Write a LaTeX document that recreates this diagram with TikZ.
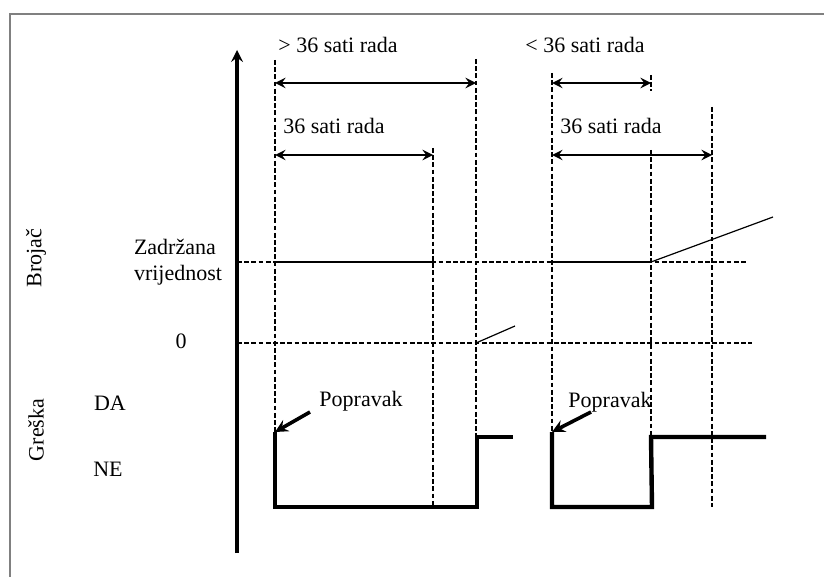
\documentclass[tikz,border=0pt]{standalone}
\usepackage{fontspec}
\setmainfont{Liberation Serif}
\usetikzlibrary{arrows,calc}

\begin{document}
\begin{tikzpicture}[x=0.5pt,y=-0.5pt,
    grid/.style={dash pattern=on 2.4pt off 1.2pt,line width=1.25pt},
    signal/.style={line width=2.2pt},
    span/.style={stealth-stealth,line width=1.3pt},
    lbl/.style={font=\fontsize{11}{13}\selectfont,inner sep=0pt}]

    \useasboundingbox (0,0) rectangle (824,577);
    \draw[gray,line width=1pt] (10,577) -- (10,14) -- (824,14);

    % time axis
    \coordinate (ax0) at (237,553);
    \coordinate (ax1) at (237,50);
    \draw[line width=1.6pt,-stealth] (ax0) to (ax1);

    % events: t1 reset, t2 after 36 h, t3 fault again, t4 reset, t5 fault, t6 after 36 h
    \coordinate (t1) at (275,432);
    \coordinate (t2) at (433,507);
    \coordinate (t3) at (476,437);
    \coordinate (t4) at (552,432);
    \coordinate (t5) at (651,437);
    \coordinate (t6) at (712,507);

    \draw[grid] (275,60) to (t1);
    \draw[grid] (433,148) to (t2);
    \draw[grid] (476,59) to (t3);
    \draw[grid] (552,73) to (t4);
    \draw[grid] (651,75) to (651,91);
    \draw[grid] (651,150) to (t5);
    \draw[grid] (712,107) to (t6);

    % counter levels
    \draw[grid] (237,262) to (748,262);
    \draw[grid] (237,343) to (752,343);
    \draw[line width=1pt] (275,262) to (433,262);
    \draw[line width=1pt] (552,262) to (651,262);
    \draw[line width=0.6pt] (476,343) to (515,326);
    \draw[line width=0.6pt] (651,262) to (773,217);

    % running hours
    \draw[span] (275,83) to (476,83);
    \draw[span] (275,155) to (433,155);
    \draw[span] (552,83) to (651,83);
    \draw[span] (552,155) to (712,155);

    \node[lbl] (h1) at (338,45) {> 36 sati rada};
    \node[lbl] (h2) at (334,126) {36 sati rada};
    \node[lbl] (h3) at (585,45) {< 36 sati rada};
    \node[lbl] (h4) at (611,126) {36 sati rada};

    % fault signal
    \draw[signal] (t1) -- (275,507) -- (477,507) -- (477,437) -- (513,437);
    \draw[signal] (t4) -- (552,507) -- (652,507) -- (t5) -- (766,437);

    \node[lbl] (pop1) at (361,401) {Popravak};
    \node[lbl] (pop2) at (610,402) {Popravak};
    \coordinate (r1) at (310,412);
    \coordinate (r2) at (591,412);
    \draw[line width=1.8pt,-stealth] (r1) to (t1);
    \draw[line width=1.8pt,-stealth] (r2) to (t4);

    % level labels
    \node[lbl,align=left] (held) at (178,262) {Zadržana\\vrijednost};
    \node[lbl] (zero) at (181,341) {0};
    \node[lbl] (da) at (110,403) {DA};
    \node[lbl] (ne) at (108,469) {NE};
    \node[lbl,rotate=90] (cnt) at (36,258) {Brojač};
    \node[lbl,rotate=90] (err) at (36,430) {Greška};
\end{tikzpicture}
\end{document}
